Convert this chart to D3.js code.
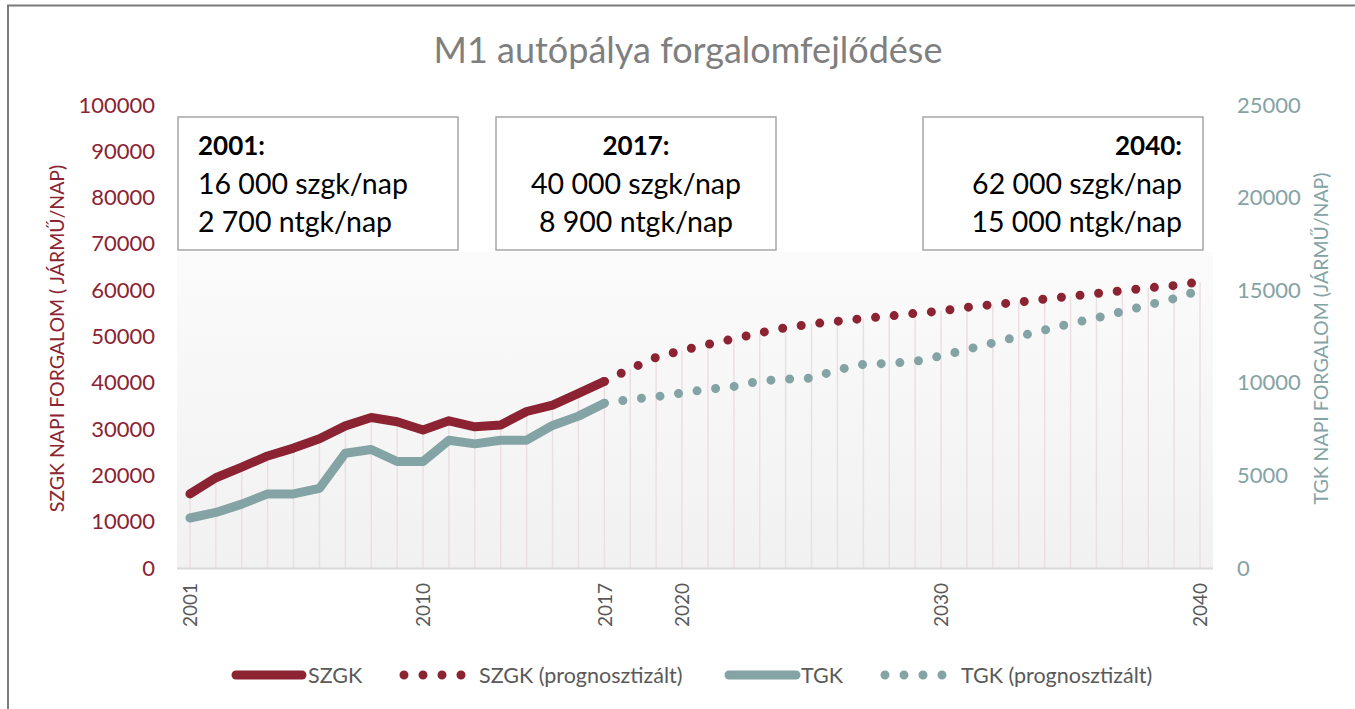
<!DOCTYPE html>
<html>
<head>
<meta charset="utf-8">
<script src="https://cdn.jsdelivr.net/npm/d3@7"></script>
<style>
  body { margin: 0; background: #fff; }
  svg { display: block; font-family: Lato, "Noto Sans", sans-serif; }
</style>
</head>
<body>
<svg id="chart" width="1355" height="709"></svg>
<script>
// categories
const years = [2001, 2002, 2003, 2004, 2005, 2006, 2007, 2008, 2009, 2010,
  2011, 2012, 2013, 2014, 2015, 2016, 2017, 2018, 2019, 2020,
  2021, 2022, 2023, 2024, 2025, 2026, 2027, 2028, 2029, 2030,
  2031, 2032, 2033, 2034, 2035, 2036, 2037, 2038, 2039, 2040];
const actualYears = years.slice(0, 17);   // 2001-2017
const forecastYears = years.slice(16);    // 2017-2040

// szgk (cars), left axis
const szgk = [16000, 19500, 21800, 24200, 25900, 27900, 30700, 32500, 31600, 29800,
  31800, 30500, 30900, 33800, 35200, 37700, 40300];
const szgkForecast = [40300, 43000, 45500, 47000, 48300, 49500, 50800, 51900, 52700, 53300,
  53900, 54400, 55000, 55500, 56300, 56900, 57400, 58100, 58700, 59300,
  59900, 60500, 61000, 61800];

// tgk (trucks), right axis
const tgk = [2700, 3000, 3450, 4000, 4000, 4300, 6200, 6400, 5750, 5750,
  6900, 6700, 6900, 6900, 7700, 8200, 8900];
const tgkForecast = [8900, 9100, 9250, 9450, 9650, 9800, 10100, 10200, 10250, 10700,
  11000, 11050, 11150, 11450, 11800, 12150, 12500, 12850, 13200, 13500,
  13850, 14200, 14550, 15000];

const leftTicks = [0, 10000, 20000, 30000, 40000, 50000, 60000, 70000, 80000, 90000, 100000];
const rightTicks = [0, 5000, 10000, 15000, 20000, 25000];
const xLabels = [2001, 2010, 2017, 2020, 2030, 2040];

const boxes = [
  { year: "2001:", l1: "16 000 szgk/nap", l2: "2 700 ntgk/nap", align: "start" },
  { year: "2017:", l1: "40 000 szgk/nap", l2: "8 900 ntgk/nap", align: "middle" },
  { year: "2040:", l1: "62 000 szgk/nap", l2: "15 000 ntgk/nap", align: "end" }
];

const red = "#8b2332", teal = "#84a3a4";
const svg = d3.select("#chart");

// outer chart frame (runs off the picture on right/bottom)
svg.append("rect").attr("x", 8).attr("y", 5.5).attr("width", 1400).attr("height", 760)
  .attr("fill", "none").attr("stroke", "#7a7a7a").attr("stroke-width", 2);

const pLeft = 177, pRight = 1213, pTop = 105, pBottom = 568;

let x = d3.scalePoint().domain(years).range([pLeft, pRight]).padding(0.5);
let yL = d3.scaleLinear().domain([0, 100000]).range([pBottom, pTop]);
let yR = d3.scaleLinear().domain([0, 25000]).range([pBottom, pTop]);

// plot background gradient
const defs = svg.append("defs");
const grad = defs.append("linearGradient").attr("id", "bg").attr("x1", 0).attr("y1", 0).attr("x2", 0).attr("y2", 1);
grad.append("stop").attr("offset", "0%").attr("stop-color", "#fbfbfb");
grad.append("stop").attr("offset", "100%").attr("stop-color", "#f1f1f1");
svg.append("rect").attr("x", pLeft).attr("y", 252).attr("width", pRight - pLeft).attr("height", pBottom - 252)
  .attr("fill", "url(#bg)");

// title
svg.append("text").attr("x", 688).attr("y", 63).attr("text-anchor", "middle")
  .attr("font-size", 36).attr("fill", "#7f7f7f").text("M1 autópálya forgalomfejlődése");

// drop lines
const topOf = years.map((yr, i) => {
  let vals = [];
  if (i < 17) { vals.push(yL(szgk[i]), yR(tgk[i])); }
  if (i >= 16) { vals.push(yL(szgkForecast[i - 16]), yR(tgkForecast[i - 16])); }
  return { yr: yr, y: d3.min(vals) };
});
svg.append("g").selectAll("line").data(topOf).join("line")
  .attr("x1", d => x(d.yr)).attr("x2", d => x(d.yr))
  .attr("y1", d => d.y).attr("y2", pBottom)
  .attr("stroke", "#ecdfe3").attr("stroke-width", 1.5);

// bottom axis line
svg.append("line").attr("x1", pLeft).attr("x2", pRight).attr("y1", pBottom + 0.5).attr("y2", pBottom + 0.5)
  .attr("stroke", "#d9d9d9").attr("stroke-width", 2);

// axes
const gL = svg.append("g").attr("transform", `translate(${pLeft},0)`)
  .call(d3.axisLeft(yL).tickValues(leftTicks).tickSize(0).tickPadding(22).tickFormat(d3.format("d")));
gL.select(".domain").remove();
gL.selectAll("text").attr("font-size", 22).attr("fill", red).attr("font-family", "Lato, sans-serif");

const gR = svg.append("g").attr("transform", `translate(${pRight},0)`)
  .call(d3.axisRight(yR).tickValues(rightTicks).tickSize(0).tickPadding(24).tickFormat(d3.format("d")));
gR.select(".domain").remove();
gR.selectAll("text").attr("font-size", 22).attr("fill", teal).attr("font-family", "Lato, sans-serif");

const gX = svg.append("g").attr("transform", `translate(0,${pBottom})`)
  .call(d3.axisBottom(x).tickValues(xLabels).tickSize(0));
gX.select(".domain").remove();
gX.selectAll("text").attr("font-size", 19).attr("fill", "#595959").attr("font-family", "Lato, sans-serif")
  .attr("text-anchor", "end").attr("transform", "rotate(-90)")
  .attr("x", -15).attr("y", 0).attr("dy", "0.35em");

// axis titles
svg.append("text").attr("transform", `translate(64,${(pTop + pBottom) / 2 + 2}) rotate(-90)`)
  .attr("text-anchor", "middle").attr("font-size", 19.5).attr("fill", red)
  .text("SZGK NAPI FORGALOM ( JÁRMŰ/NAP)");
svg.append("text").attr("transform", `translate(1328,${(pTop + pBottom) / 2 + 2}) rotate(-90)`)
  .attr("text-anchor", "middle").attr("font-size", 19.5).attr("fill", teal)
  .text("TGK NAPI FORGALOM (JÁRMŰ/NAP)");

// lines
const lineL = d3.line().x(d => x(d[0])).y(d => yL(d[1]));
const lineR = d3.line().x(d => x(d[0])).y(d => yR(d[1]));

svg.append("path").datum(d3.zip(forecastYears, tgkForecast)).attr("d", lineR)
  .attr("fill", "none").attr("stroke", teal).attr("stroke-width", 9)
  .attr("stroke-linecap", "round").attr("stroke-dasharray", "0 18.7");
svg.append("path").datum(d3.zip(forecastYears, szgkForecast)).attr("d", lineL)
  .attr("fill", "none").attr("stroke", red).attr("stroke-width", 9)
  .attr("stroke-linecap", "round").attr("stroke-dasharray", "0 18.7");
svg.append("path").datum(d3.zip(actualYears, tgk)).attr("d", lineR)
  .attr("fill", "none").attr("stroke", teal).attr("stroke-width", 9)
  .attr("stroke-linecap", "round").attr("stroke-linejoin", "round");
svg.append("path").datum(d3.zip(actualYears, szgk)).attr("d", lineL)
  .attr("fill", "none").attr("stroke", red).attr("stroke-width", 9)
  .attr("stroke-linecap", "round").attr("stroke-linejoin", "round");

// annotation boxes
const boxX = [178, 496, 923], boxW = 280;
boxes.forEach((b, i) => {
  const g = svg.append("g").attr("transform", `translate(${boxX[i]},117)`);
  g.append("rect").attr("width", boxW).attr("height", 133)
    .attr("fill", "#fff").attr("stroke", "#a6a6a6").attr("stroke-width", 1.5);
  const tx = b.align === "start" ? 20 : b.align === "middle" ? boxW / 2 : boxW - 21;
  const t = g.append("text").attr("text-anchor", b.align).attr("font-size", 28.5).attr("fill", "#000");
  t.append("tspan").attr("x", tx).attr("y", 38).attr("font-weight", "bold").attr("font-size", 26).text(b.year);
  t.append("tspan").attr("x", tx).attr("y", 77).text(b.l1);
  t.append("tspan").attr("x", tx).attr("y", 115).text(b.l2);
});

// legend
const leg = svg.append("g").attr("font-size", 21.5).attr("fill", "#595959");
const legItems = [
  { x1: 236, x2: 302, color: red, dotted: false, tx: 308, label: "SZGK" },
  { x1: 404, x2: 462, color: red, dotted: true, tx: 479, label: "SZGK (prognosztizált)" },
  { x1: 729, x2: 796, color: teal, dotted: false, tx: 801, label: "TGK" },
  { x1: 885, x2: 944, color: teal, dotted: true, tx: 961, label: "TGK (prognosztizált)" }
];
legItems.forEach(d => {
  leg.append("line").attr("x1", d.x1).attr("x2", d.x2).attr("y1", 675).attr("y2", 675)
    .attr("stroke", d.color).attr("stroke-width", 9).attr("stroke-linecap", "round")
    .attr("stroke-dasharray", d.dotted ? "0 19" : null);
  leg.append("text").attr("x", d.tx).attr("y", 675).attr("dy", "0.35em").text(d.label);
});
</script>
</body>
</html>
